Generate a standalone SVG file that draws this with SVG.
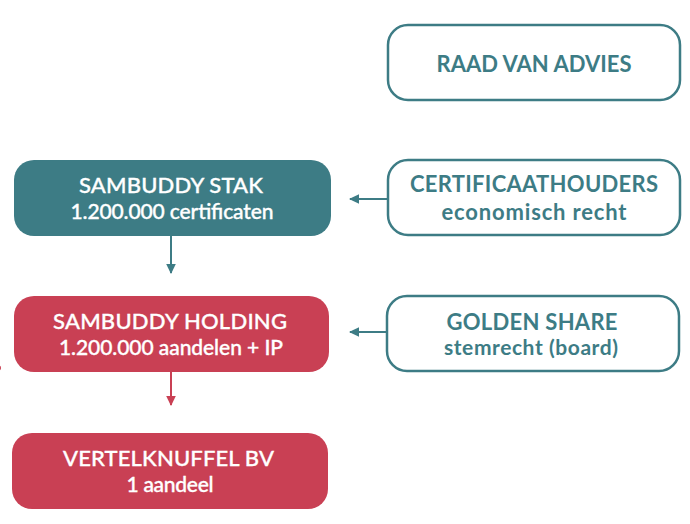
<svg xmlns="http://www.w3.org/2000/svg" width="690" height="524" viewBox="0 0 690 524">
<style>
text{font-family:Lato,"Open Sans",sans-serif;text-anchor:middle}
.w{fill:#fff;stroke:#3d7c85;stroke-width:2.5}
.t{fill:#3d7c85}.r{fill:#c94054}
.lt{fill:#3d7c85;font-weight:700}.lw{fill:#fff;font-weight:500;stroke:#fff;stroke-width:.35}
.a{font-size:22px}.b{font-size:21px}.c{font-size:22px}
</style>
<defs>
<marker id="mt" markerWidth="12" markerHeight="12" refX="9" refY="5" orient="auto" markerUnits="userSpaceOnUse"><path d="M0 0.2L10 5L0 9.8Z" fill="#3d7c85"/></marker>
<marker id="mr" markerWidth="12" markerHeight="12" refX="9" refY="5" orient="auto" markerUnits="userSpaceOnUse"><path d="M0 0.2L10 5L0 9.8Z" fill="#c94054"/></marker>
</defs>
<g id="connectors" fill="none" stroke-width="2">
<path d="M387 199H350" stroke="#3d7c85" marker-end="url(#mt)"/>
<path d="M387 332H350" stroke="#3d7c85" marker-end="url(#mt)"/>
<path d="M171 236V273" stroke="#3d7c85" marker-end="url(#mt)"/>
<path d="M171 372V405" stroke="#c94054" marker-end="url(#mr)"/>
</g>
<g id="raad"><rect class="w" x="388" y="25" width="292" height="75" rx="20"/><text class="lt a" x="534" y="71.500" textLength="195">RAAD VAN ADVIES</text></g>
<g id="stak"><rect class="t" x="14" y="160" width="317" height="76" rx="20"/><text class="lw a" x="171" y="193" textLength="184">SAMBUDDY STAK</text><text class="lw b" x="172" y="219" textLength="203">1.200.000 certificaten</text></g>
<g id="cert"><rect class="w" x="388" y="160" width="292" height="75" rx="20"/><text class="lt a" x="534" y="191.500" textLength="248">CERTIFICAATHOUDERS</text><text class="lt c" x="534" y="220" textLength="185">economisch recht</text></g>
<g id="holding"><rect class="r" x="14" y="296" width="315" height="76" rx="20"/><text class="lw a" x="170" y="329" textLength="234">SAMBUDDY HOLDING</text><text class="lw b" x="171" y="355" textLength="224">1.200.000 aandelen + IP</text></g>
<g id="golden"><rect class="w" x="387" y="296" width="292" height="75" rx="20"/><text class="lt a" x="532" y="329.500" textLength="171">GOLDEN SHARE</text><text class="lt b" x="531" y="355" textLength="174">stemrecht (board)</text></g>
<g id="vertel"><rect class="r" x="12" y="433" width="316" height="76" rx="20"/><text class="lw a" x="168.500" y="466" textLength="211">VERTELKNUFFEL BV</text><text class="lw b" x="170" y="492" textLength="87">1 aandeel</text></g>
<circle cx="-1.500" cy="368" r="2.500" fill="#c94054"/>
</svg>
